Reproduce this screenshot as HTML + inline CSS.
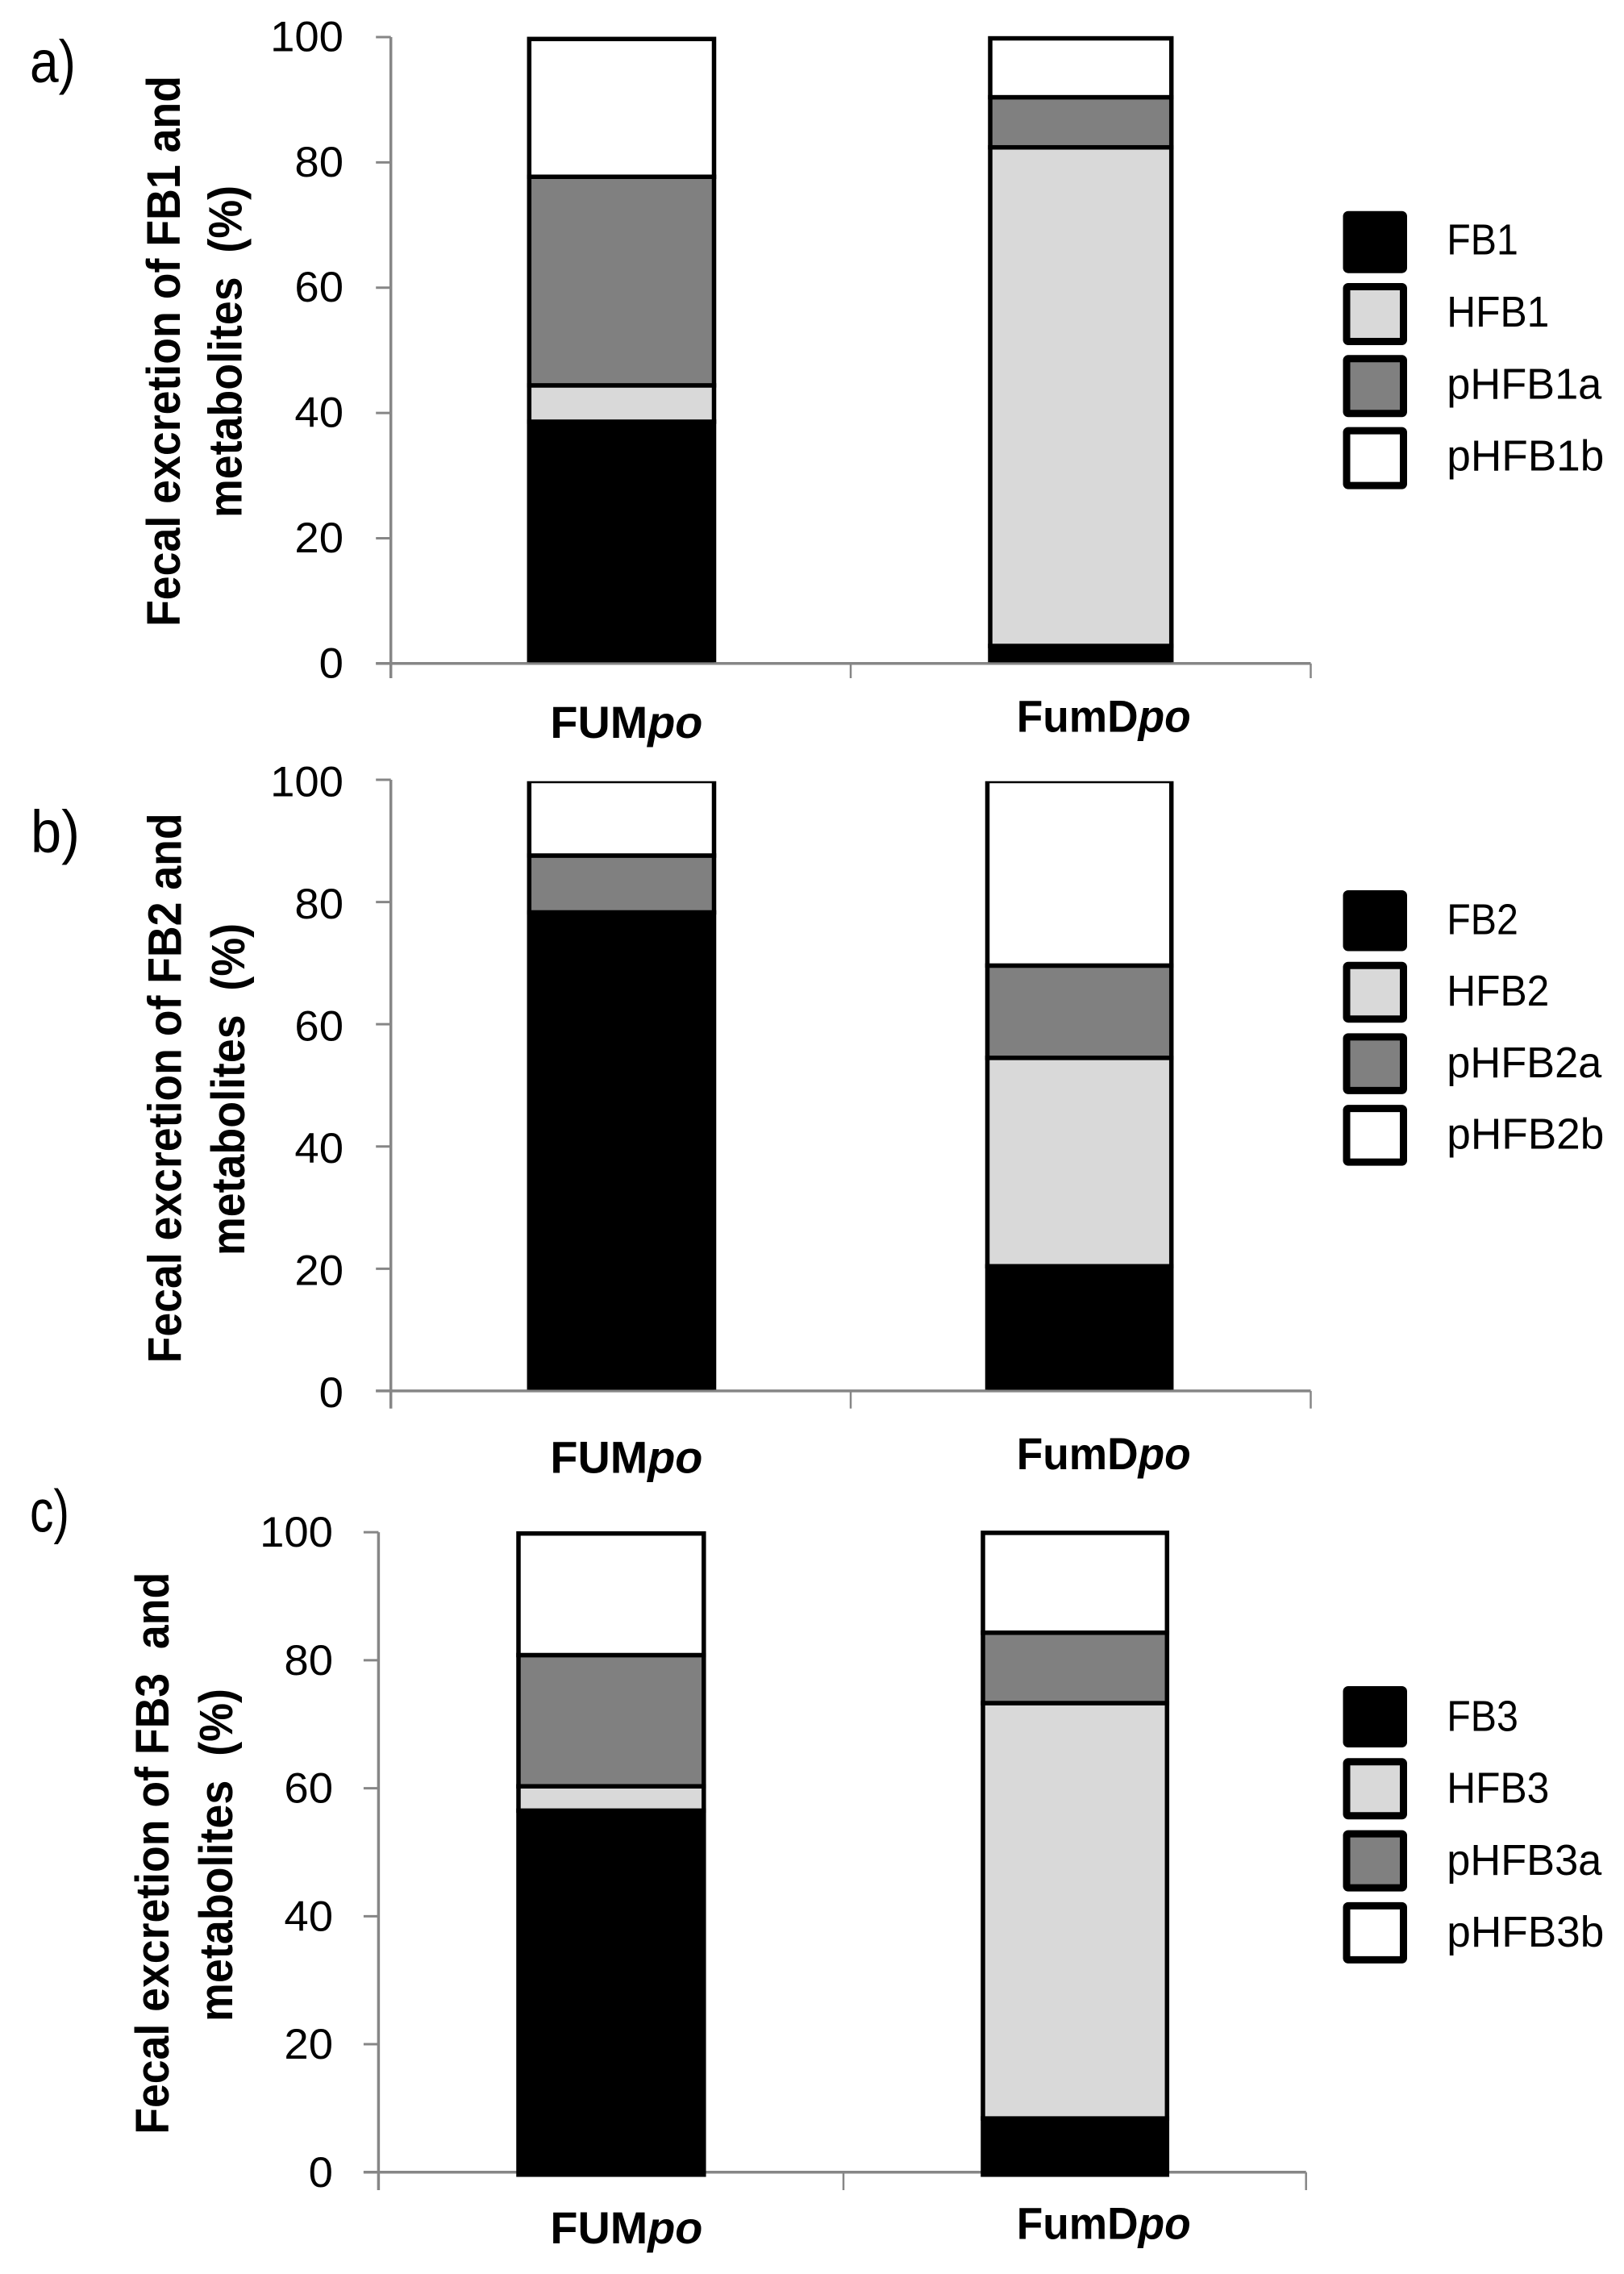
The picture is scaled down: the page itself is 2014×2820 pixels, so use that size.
<!DOCTYPE html>
<html lang="en">
<head>
<meta charset="utf-8">
<title>Fecal excretion of fumonisins and metabolites</title>
<style>
  html, body { margin: 0; padding: 0; background: #fff; }
  svg { display: block; }
  text { font-family: "Liberation Sans", sans-serif; fill: #000; white-space: pre; }
</style>
</head>
<body>
<svg id="figure" xmlns="http://www.w3.org/2000/svg" width="2014" height="2820" viewBox="0 0 2014 2820"></svg>
<script>
// ---- chart data ----
const tickLabels = [0, 20, 40, 60, 80, 100];
const categoryNames = ['FUM', 'FumD'];
const categoryOrder = ['FUMpo', 'FumDpo'];
const categorySuffix = 'po';

const seriesA = ['FB1', 'HFB1', 'pHFB1a', 'pHFB1b'];
const fb1Values = [38.6, 2.8];
const hfb1Values = [5.8, 79.6];
const phfb1aValues = [33.3, 8.0];
const phfb1bValues = [22.0, 9.4];

const seriesB = ['FB2', 'HFB2', 'pHFB2a', 'pHFB2b'];
const fb2Values = [78.3, 20.4];
const hfb2Values = [0, 34.1];
const phfb2aValues = [9.3, 15.1];
const phfb2bValues = [12.2, 30.2];

const seriesC = ['FB3', 'HFB3', 'pHFB3a', 'pHFB3b'];
const fb3Values = [56.5, 8.4];
const hfb3Values = [3.8, 64.9];
const phfb3aValues = [20.5, 11.0];
const phfb3bValues = [19.0, 15.6];

const seriesFills = ['#000000', '#d9d9d9', '#808080', '#ffffff'];

// ---- layout ----
const panels = [
  { id: 'a', letter: 'a)', letterX: 37, letterY: 102, letterW: 57,
    axisX: 484.7, axisMid: 1055, axisRight: 1625.5, y100: 46, y0: 822.8, tickBottom: 841, labelEdge: 426, labelDy: 17.5,
    barL: [656.3, 1228], barR: [885.5, 1452.7], clipTop: 40, clipBottom: 821.3, bottomPad: 0,
    title1: 'Fecal excretion of FB1 and', title2: 'metabolites  (%)',
    t1x: 223, t1y: 777, t1len: 683, t2x: 299.7, t2y: 642, t2len: 412,
    labelY: [915, 907.6],
    series: seriesA, values: [fb1Values, hfb1Values, phfb1aValues, phfb1bValues],
    legendTop: 261.7, legendStep: 89.3, legendSize: 77, legendDy: 54 },
  { id: 'b', letter: 'b)', letterX: 38, letterY: 1057, letterW: 61,
    axisX: 484.7, axisMid: 1055, axisRight: 1625.5, y100: 967, y0: 1724.9, tickBottom: 1746.7, labelEdge: 426, labelDy: 20.3,
    barL: [656.3, 1224.5], barR: [885.5, 1452.7], clipTop: 968.8, clipBottom: 1723.4, bottomPad: 0,
    title1: 'Fecal excretion of FB2 and', title2: 'metabolites  (%)',
    t1x: 224.5, t1y: 1690.4, t1len: 682, t2x: 303, t2y: 1557, t2len: 412,
    labelY: [1826.7, 1822],
    series: seriesB, values: [fb2Values, hfb2Values, phfb2aValues, phfb2bValues],
    legendTop: 1104, legendStep: 88.7, legendSize: 75.5, legendDy: 54.4 },
  { id: 'c', letter: 'c)', letterX: 37, letterY: 1899.5, letterW: 49,
    axisX: 469.4, axisMid: 1046, axisRight: 1619.7, y100: 1900.1, y0: 2693.8, tickBottom: 2716, labelEdge: 413, labelDy: 18,
    barL: [643, 1219], barR: [872.8, 1447.3], clipTop: 1890, clipBottom: 2710, bottomPad: 3,
    title1: 'Fecal excretion of FB3  and', title2: 'metabolites  (%)',
    t1x: 209, t1y: 2646.8, t1len: 697, t2x: 288, t2y: 2507, t2len: 413,
    labelY: [2782, 2776.7],
    series: seriesC, values: [fb3Values, hfb3Values, phfb3aValues, phfb3bValues],
    legendTop: 2091, legendStep: 89.3, legendSize: 76, legendDy: 55.3 }
];

const SVG_NS = 'http://www.w3.org/2000/svg';
const figure = document.getElementById('figure');
const AXIS_COLOR = '#868686';
const labelX = [682.4, 1260.7];
const labelW = [189, 216];
const legendLabelWidths = [88.6, 127, 192, 195];

function make(tag, attrs, parent) {
  const el = document.createElementNS(SVG_NS, tag);
  Object.keys(attrs).forEach(function (k) { el.setAttribute(k, attrs[k]); });
  parent.appendChild(el);
  return el;
}

function yScale(p, v) {
  return p.y0 - (v / 100) * (p.y0 - p.y100);
}

panels.forEach(function (p) {
  const g = make('g', {}, figure);
  
  

  const letter = make('text', { x: p.letterX, y: p.letterY, 'font-size': 74, textLength: p.letterW, lengthAdjust: 'spacingAndGlyphs' }, g);
  letter.textContent = p.letter;
  
  

  // y axis
  const yAxis = make('line', { x1: p.axisX, x2: p.axisX, y1: p.y100, y2: p.tickBottom, stroke: AXIS_COLOR, 'stroke-width': 3.5 }, g);
  
  

  tickLabels.forEach(function (t) {
    const y = yScale(p, t);
    const tick = make('line', { x1: p.axisX - 18.5, x2: p.axisX, y1: y, y2: y, stroke: AXIS_COLOR, 'stroke-width': 3 }, g);
    
    

    const s = String(t);
    const lab = make('text', { x: p.labelEdge, y: y + p.labelDy, 'font-size': 53, 'text-anchor': 'end', textLength: s.length * 30.3, lengthAdjust: 'spacingAndGlyphs' }, g);
    lab.textContent = s;
    
    
  });

  // x axis
  const xAxis = make('line', { x1: p.axisX - 18.5, x2: p.axisRight, y1: p.y0, y2: p.y0, stroke: AXIS_COLOR, 'stroke-width': 3.5 }, g);
  
  

  [p.axisMid, p.axisRight].forEach(function (x, i) {
    const tick = make('line', { x1: x, x2: x, y1: p.y0, y2: p.tickBottom, stroke: AXIS_COLOR, 'stroke-width': 2.5 }, g);
    
    
  });

  // y title
  const t1 = make('text', { transform: 'translate(' + p.t1x + ',' + p.t1y + ') rotate(-90)', 'font-size': 58, 'font-weight': 'bold', textLength: p.t1len, lengthAdjust: 'spacingAndGlyphs' }, g);
  t1.textContent = p.title1;
  
  

  const t2 = make('text', { transform: 'translate(' + p.t2x + ',' + p.t2y + ') rotate(-90)', 'font-size': 58, 'font-weight': 'bold', textLength: p.t2len, lengthAdjust: 'spacingAndGlyphs' }, g);
  t2.textContent = p.title2;
  
  

  // clip
  const clipId = 'clip-' + p.id;
  const clip = make('clipPath', { id: clipId }, g);
  make('rect', { x: 0, y: p.clipTop, width: 2014, height: p.clipBottom - p.clipTop }, clip);

  // bars
  const barsGroup = make('g', { 'clip-path': 'url(#' + clipId + ')' }, g);
  
  

  categoryOrder.forEach(function (cat, c) {
    let base = 0;
    p.series.forEach(function (name, s) {
      const v = p.values[s][c];
      const top = yScale(p, base + v);
      let bottom = yScale(p, base);
      if (s === 0) { bottom += p.bottomPad; }
      base += v;
      if (v <= 0) { return; }
      const bar = make('rect', {
        x: p.barL[c], y: top, width: p.barR[c] - p.barL[c], height: bottom - top,
        fill: seriesFills[s], stroke: '#000', 'stroke-width': 5.5
      }, barsGroup);
      
      
    });
  });

  // category labels
  categoryOrder.forEach(function (cat, c) {
    const lab = make('text', { x: labelX[c], y: p.labelY[c], 'font-size': 56, 'font-weight': 'bold', textLength: labelW[c], lengthAdjust: 'spacingAndGlyphs' }, g);
    
    
    lab.appendChild(document.createTextNode(categoryNames[c]));
    const it = make('tspan', { 'font-style': 'italic' }, lab);
    it.textContent = categorySuffix;
  });

  // legend
  p.series.forEach(function (name, s) {
    const entry = make('g', {}, g);
    
    

    const top = p.legendTop + s * p.legendStep;
    const swatch = make('rect', {
      x: 1670, y: top + 4.5, width: 70.5, height: p.legendSize - 9, rx: 2, ry: 2,
      fill: seriesFills[s], stroke: '#000', 'stroke-width': 9
    }, entry);
    
    

    const text = make('text', { x: 1794.3, y: top + p.legendDy, 'font-size': 54, textLength: legendLabelWidths[s], lengthAdjust: 'spacingAndGlyphs' }, entry);
    text.textContent = name;
    
    
  });
});
</script>
</body>
</html>
